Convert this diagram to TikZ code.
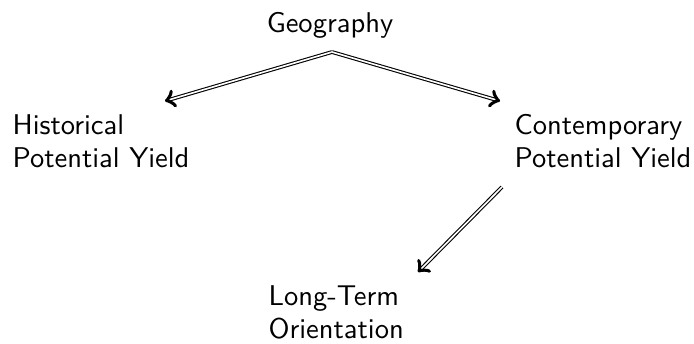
\documentclass[tikz,border=0pt]{standalone}
\usetikzlibrary{positioning}
\renewcommand{\familydefault}{\sfdefault}

\begin{document}
\begin{tikzpicture}[
  x=0.3676pt, y=-0.3676pt,
  font=\fontsize{10.5pt}{12.1pt}\selectfont\sffamily,
  lbl/.style={anchor=base west, align=left, inner sep=0pt},
  dbl/.style={->, double, double distance=0.6pt, line width=0.4pt}
]
\useasboundingbox (0,0) rectangle (694,343);
% ----- nodes (base = last line) -----
\node[lbl, anchor=base] (geo) at (330,32) {Geography};
\node[lbl] (hist) at (12,167) {Historical\\Potential Yield};
\node[lbl] (cont) at (514,167) {Contemporary\\Potential Yield};
\node[lbl] (lto) at (268,338) {Long-Term\\Orientation};
% ----- arrow ends -----
\coordinate (fork) at (332,52);
\coordinate (histin) at (165,101);
\coordinate (contin) at (500,101);
\coordinate (contout) at (502,187);
\coordinate (ltoin) at (418,272);
\draw[dbl] (fork) -- (histin);
\draw[dbl] (fork) -- (contin);
\draw[dbl] (contout) -- (ltoin);
\end{tikzpicture}
\end{document}
